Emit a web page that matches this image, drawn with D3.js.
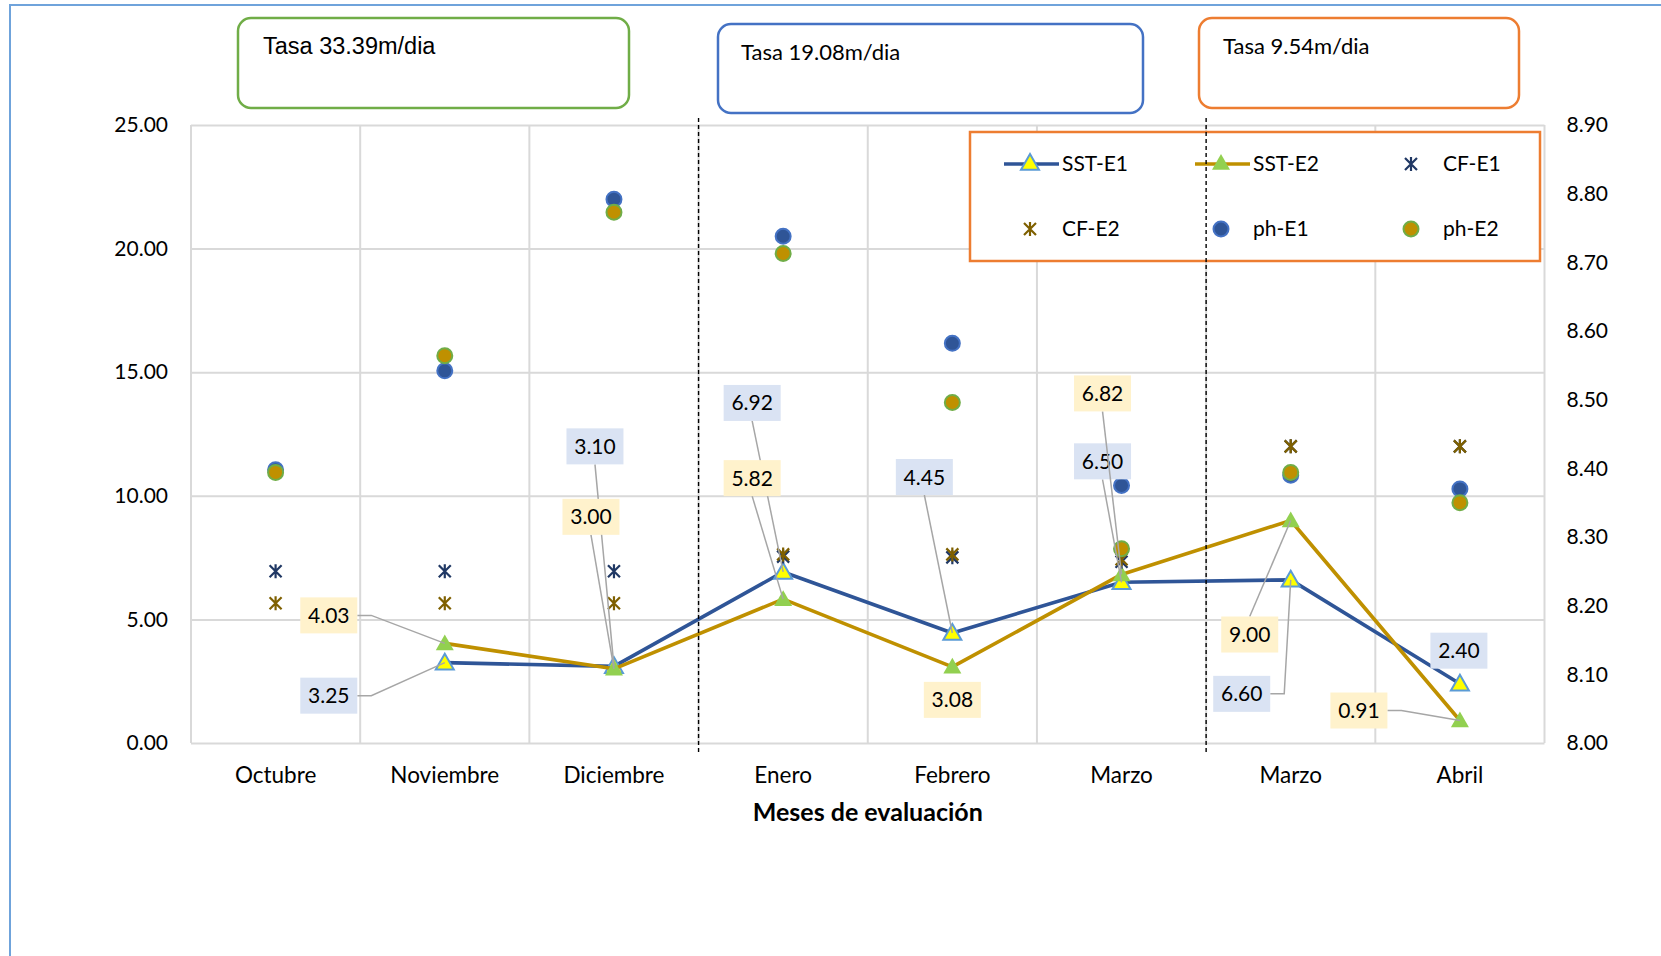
<!DOCTYPE html>
<html>
<head>
<meta charset="utf-8">
<script src="https://cdn.jsdelivr.net/npm/d3@7"></script>
<style>
  body { margin: 0; background: #fff; }
  svg { display: block; }
</style>
</head>
<body>
<svg id="chart" width="1661" height="956"></svg>
<script>
// ---- data ----
const months = ["Octubre", "Noviembre", "Diciembre", "Enero", "Febrero", "Marzo", "Marzo", "Abril"];
const sstE1 = [null, 3.25, 3.10, 6.92, 4.45, 6.50, 6.60, 2.40];
const sstE2 = [null, 4.03, 3.00, 5.82, 3.08, 6.82, 9.00, 0.91];
const cfE1 = [6.95, 6.95, 6.95, 7.54, 7.51, 7.33, 12.0, 12.0];
const cfE2 = [5.65, 5.65, 5.65, 7.63, 7.63, 7.43, 12.0, 12.0];
const phE1 = [8.398, 8.542, 8.792, 8.738, 8.582, 8.375, 8.390, 8.370];
const phE2 = [8.394, 8.564, 8.773, 8.713, 8.496, 8.283, 8.394, 8.350];
const leftTicks = [0, 5, 10, 15, 20, 25];
const rightTicks = [8.0, 8.1, 8.2, 8.3, 8.4, 8.5, 8.6, 8.7, 8.8, 8.9];
const rateTexts = ["Tasa 33.39m/dia", "Tasa 19.08m/dia", "Tasa 9.54m/dia"];
const periodBreaks = [3, 6];            // category index where a new period starts
const xTitle = "Meses de evaluación";

// ---- layout ----
const svg = d3.select("#chart");
const X0 = 191, X1 = 1544.5, YT = 125, YB = 743;
const FONT = "Lato, 'Open Sans', sans-serif";

const x = d3.scaleBand().domain(d3.range(months.length)).range([X0, X1]).padding(0);
const cx = i => x(i) + x.bandwidth() / 2;
const yL = d3.scaleLinear().domain([0, 25]).range([YB, YT]);
const yR = d3.scaleLinear().domain([8.0, 8.9]).range([YB, YT]);

// outer frame (top and left edges visible)
svg.append("path").attr("d", "M10,957 L10,5 L1662,5")
  .attr("fill", "none").attr("stroke", "#6FA3DB").attr("stroke-width", 2);

// ---- gridlines ----
const grid = svg.append("g");
grid.append("g").attr("transform", `translate(${X0},0)`)
  .call(d3.axisLeft(yL).tickValues(leftTicks).tickSize(-(X1 - X0)).tickFormat(""))
  .call(g => g.select(".domain").remove())
  .call(g => g.selectAll("line").attr("stroke", "#D9D9D9").attr("stroke-width", 2));
const vBounds = d3.range(months.length).map(i => x(i)).concat([X1]);
grid.selectAll("line.v").data(vBounds).join("line").attr("class", "v")
  .attr("x1", d => d).attr("x2", d => d).attr("y1", YT).attr("y2", YB)
  .attr("stroke", "#D9D9D9").attr("stroke-width", 2);

// ---- axes ----
const axL = svg.append("g").attr("transform", `translate(${X0},0)`)
  .call(d3.axisLeft(yL).tickValues(leftTicks).tickSize(0).tickPadding(23).tickFormat(d3.format(".2f")));
const axR = svg.append("g").attr("transform", `translate(${X1},0)`)
  .call(d3.axisRight(yR).tickValues(rightTicks).tickSize(0).tickPadding(22).tickFormat(d3.format(".2f")));
const axB = svg.append("g").attr("transform", `translate(0,${YB})`)
  .call(d3.axisBottom(x).tickSize(0).tickPadding(24).tickFormat(i => months[i]));
[axL, axR, axB].forEach(a => {
  a.select(".domain").remove();
  a.selectAll("text").style("font-family", FONT).attr("font-size", 21).attr("fill", "#000");
});
axB.selectAll("text").attr("font-size", 22.5);

svg.append("text").attr("x", (X0 + X1) / 2).attr("y", 821)
  .attr("text-anchor", "middle").attr("font-size", 25).attr("font-weight", "bold")
  .style("font-family", FONT).attr("fill", "#000").text(xTitle);

// ---- legend (drawn over the gridlines) ----
const legend = svg.append("g");
legend.append("rect").attr("x", 970).attr("y", 132).attr("width", 570).attr("height", 129)
  .attr("fill", "#fff").attr("stroke", "#ED7D31").attr("stroke-width", 2.5);

// ---- marker helpers ----
function triangle(g, px, py, fill, stroke) {
  const s = 9;
  g.append("path")
    .attr("d", `M${px},${py - s} L${px + s},${py + s * 0.75} L${px - s},${py + s * 0.75} Z`)
    .attr("fill", fill).attr("stroke", stroke || "none").attr("stroke-width", 2);
}
function asterisk(g, px, py, color) {
  const r = 7, d = 6;
  g.append("path")
    .attr("d", `M${px},${py - r} L${px},${py + r} M${px - d},${py - d} L${px + d},${py + d} M${px - d},${py + d} L${px + d},${py - d}`)
    .attr("stroke", color).attr("stroke-width", 2.2).attr("fill", "none");
}
function dot(g, px, py, fill, stroke) {
  g.append("circle").attr("cx", px).attr("cy", py).attr("r", 7.5)
    .attr("fill", fill).attr("stroke", stroke).attr("stroke-width", 2);
}

const C = {
  e1Line: "#2F5597", e1Fill: "#FFFF00", e1Edge: "#5B9BD5",
  e2Line: "#BF9000", e2Fill: "#92D050",
  cf1: "#203864", cf2: "#7F6000",
  ph1Fill: "#2F5597", ph1Edge: "#4472C4", ph2Fill: "#BF9000", ph2Edge: "#70AD47"
};

// legend entries
const lg = legend.append("g");
const legendItems = [
  { name: "SST-E1", col: 0, row: 0, draw: (g, px, py) => { g.append("line").attr("x1", px - 26).attr("x2", px + 29).attr("y1", py).attr("y2", py).attr("stroke", C.e1Line).attr("stroke-width", 3.5); triangle(g, px, py - 1, C.e1Fill, C.e1Edge); } },
  { name: "SST-E2", col: 1, row: 0, draw: (g, px, py) => { g.append("line").attr("x1", px - 26).attr("x2", px + 29).attr("y1", py).attr("y2", py).attr("stroke", C.e2Line).attr("stroke-width", 3.5); triangle(g, px, py - 1, C.e2Fill); } },
  { name: "CF-E1", col: 2, row: 0, draw: (g, px, py) => asterisk(g, px, py, C.cf1) },
  { name: "CF-E2", col: 0, row: 1, draw: (g, px, py) => asterisk(g, px, py, C.cf2) },
  { name: "ph-E1", col: 1, row: 1, draw: (g, px, py) => dot(g, px, py, C.ph1Fill, C.ph1Edge) },
  { name: "ph-E2", col: 2, row: 1, draw: (g, px, py) => dot(g, px, py, C.ph2Fill, C.ph2Edge) }
];
const legCols = [1030, 1221, 1411], legRows = [164, 229];
legendItems.forEach(it => {
  const px = legCols[it.col], py = legRows[it.row];
  it.draw(lg, px, py);
  lg.append("text").attr("x", px + 32).attr("y", py).attr("dy", "0.35em")
    .attr("font-size", 21).style("font-family", FONT).attr("fill", "#000").text(it.name);
});

// ---- series ----
const plot = svg.append("g");
const lineGen = yScale => d3.line().defined(d => d != null).x((d, i) => cx(i)).y(d => yScale(d));

plot.append("path").datum(sstE1).attr("d", lineGen(yL))
  .attr("fill", "none").attr("stroke", C.e1Line).attr("stroke-width", 3.6).attr("stroke-linejoin", "round");
sstE1.forEach((v, i) => { if (v != null) triangle(plot, cx(i), yL(v), C.e1Fill, C.e1Edge); });

plot.append("path").datum(sstE2).attr("d", lineGen(yL))
  .attr("fill", "none").attr("stroke", C.e2Line).attr("stroke-width", 3.6).attr("stroke-linejoin", "round");
sstE2.forEach((v, i) => { if (v != null) triangle(plot, cx(i), yL(v), C.e2Fill); });

cfE1.forEach((v, i) => asterisk(plot, cx(i), yL(v), C.cf1));
cfE2.forEach((v, i) => asterisk(plot, cx(i), yL(v), C.cf2));
phE1.forEach((v, i) => dot(plot, cx(i), yR(v), C.ph1Fill, C.ph1Edge));
phE2.forEach((v, i) => dot(plot, cx(i), yR(v), C.ph2Fill, C.ph2Edge));

// ---- data labels with leader lines ----
// placement of each label box relative to its point: [dx, dy, leader side]
const e1LabelPos = [null, [-116, 33, "r"], [-19, -220, "b"], [-31, -169, "b"], [-28, -156, "b"], [-19, -121, "b"], [-49, 114, "r"], [-1, -33, null]];
const e2LabelPos = [null, [-116, -28, "r"], [-23, -152, "b"], [-31, -121, "b"], [0, 33, null], [-19, -181, "b"], [-41, 114, "t"], [-101, -10, "r"]];
const BW = 57, BH = 36;
const labels = svg.append("g");
function drawLabels(values, pos, fill) {
  values.forEach((v, i) => {
    if (v == null || !pos[i]) return;
    const px = cx(i), py = yL(v);
    const [dx, dy, side] = pos[i];
    const bx = px + dx, by = py + dy;
    if (side) {
      let pts;
      if (side === "r") pts = [[bx + BW / 2, by], [bx + BW / 2 + 14, by], [px, py]];
      else if (side === "b") pts = [[bx, by + BH / 2], [px, py]];
      else pts = [[bx, by - BH / 2], [px, py]];
      labels.append("path").attr("d", d3.line()(pts))
        .attr("fill", "none").attr("stroke", "#A6A6A6").attr("stroke-width", 1.5);
    }
    labels.append("rect").attr("x", bx - BW / 2).attr("y", by - BH / 2)
      .attr("width", BW).attr("height", BH).attr("fill", fill);
    labels.append("text").attr("x", bx).attr("y", by).attr("dy", "0.36em")
      .attr("text-anchor", "middle").attr("font-size", 21).style("font-family", FONT)
      .attr("fill", "#000").text(d3.format(".2f")(v));
  });
}
drawLabels(sstE1, e1LabelPos, "#DAE3F3");
drawLabels(sstE2, e2LabelPos, "#FFF2CC");

// ---- period separators ----
svg.selectAll("line.sep").data(periodBreaks).join("line").attr("class", "sep")
  .attr("x1", d => x(d)).attr("x2", d => x(d)).attr("y1", 118).attr("y2", 752)
  .attr("stroke", "#000").attr("stroke-width", 1.4).attr("stroke-dasharray", "4,3");

// ---- rate boxes above each period ----
const rateBoxes = [
  { x: 238, y: 18, w: 391, h: 90, stroke: "#70AD47", tx: 263, ty: 54, font: "'Liberation Sans', Arial, sans-serif", size: 23.5 },
  { x: 718, y: 24, w: 425, h: 89, stroke: "#4472C4", tx: 741, ty: 60, font: FONT, size: 22 },
  { x: 1199, y: 18, w: 320, h: 90, stroke: "#ED7D31", tx: 1223, ty: 54, font: FONT, size: 22 }
];
rateBoxes.forEach((b, i) => {
  svg.append("rect").attr("x", b.x).attr("y", b.y).attr("width", b.w).attr("height", b.h)
    .attr("rx", 13).attr("fill", "#fff").attr("stroke", b.stroke).attr("stroke-width", 2.5);
  svg.append("text").attr("x", b.tx).attr("y", b.ty).style("font-family", b.font)
    .attr("font-size", b.size).attr("fill", "#000").text(rateTexts[i]);
});
</script>
</body>
</html>
